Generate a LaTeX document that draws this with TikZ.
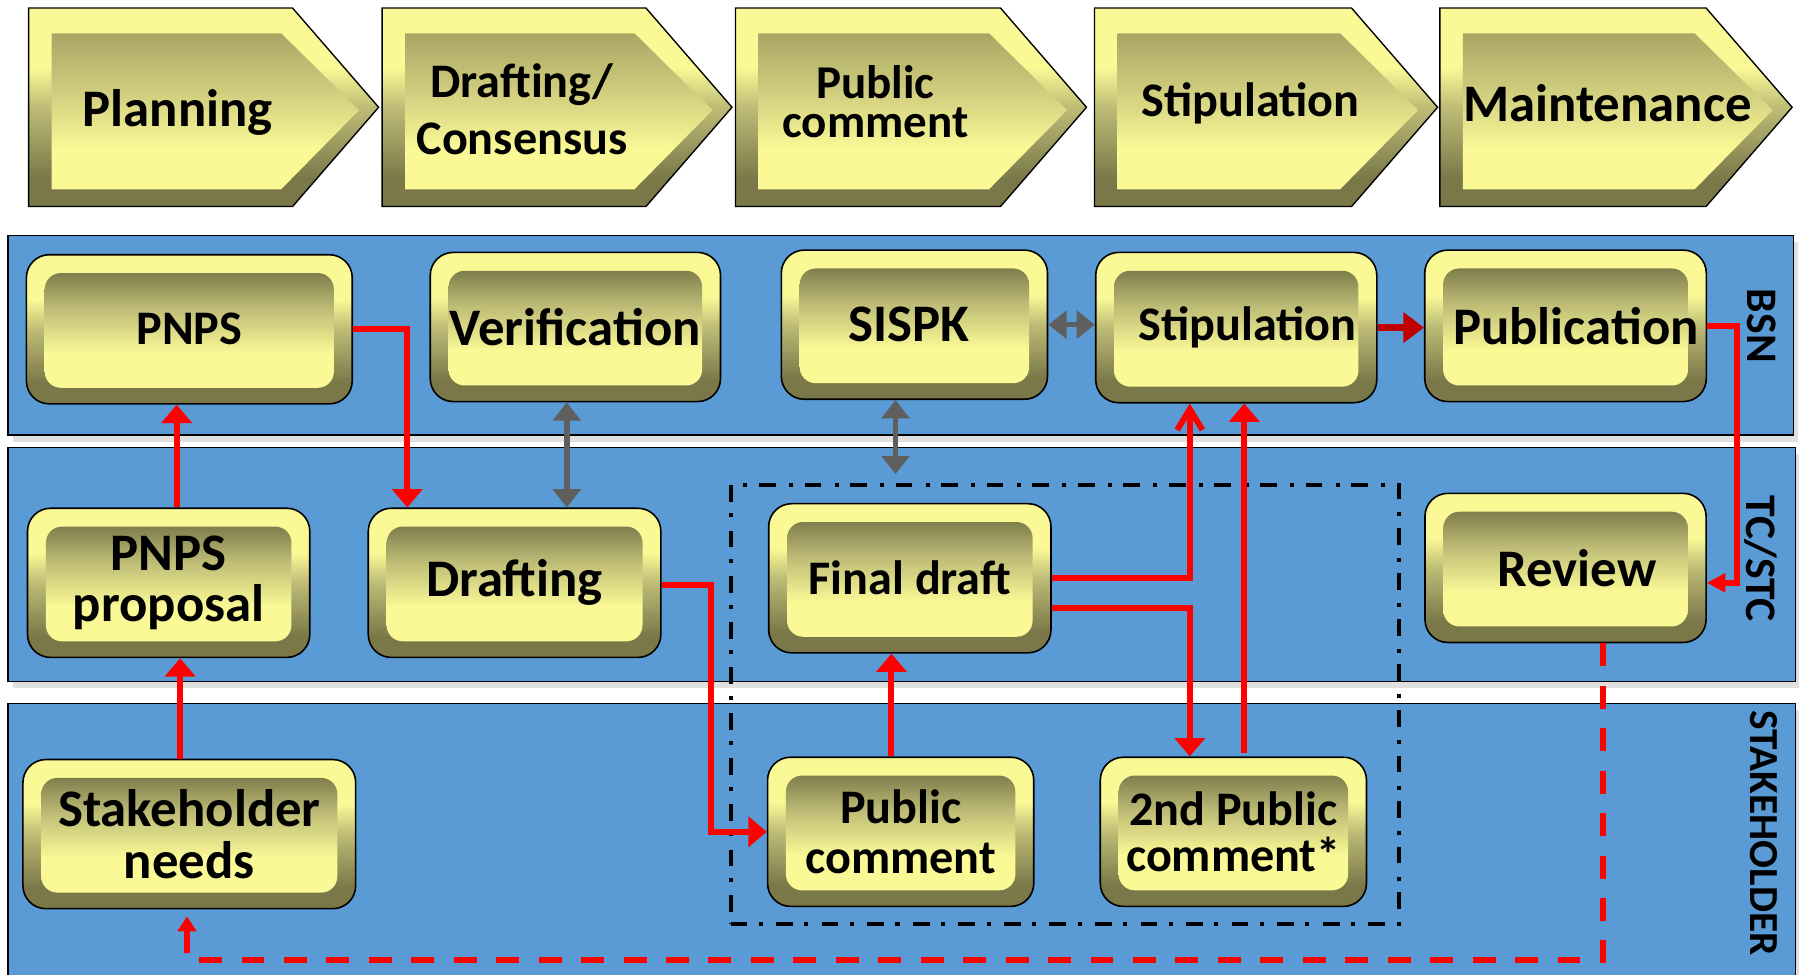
\documentclass[tikz,border=0pt]{standalone}
\usepackage{fontspec}
\setmainfont{Carlito}
\usepackage{tikz}
\usetikzlibrary{shapes,positioning,calc}
\usetikzlibrary{arrows.meta,shadows}
\definecolor{lightyel}{HTML}{FAF996}
\definecolor{olivedark}{HTML}{7A7848}
\definecolor{olivemid}{HTML}{BEBC76}
\definecolor{chevtop}{HTML}{A9A665}
\definecolor{chevmid}{HTML}{D3D080}
\definecolor{laneblue}{HTML}{5B9BD5}
\definecolor{linered}{HTML}{FF0000}
\definecolor{darkred}{HTML}{C00000}
\definecolor{arrowgray}{HTML}{5F5F5F}
\pgfdeclareverticalshading{boxout}{100bp}{color(0bp)=(olivedark); color(32bp)=(olivedark); color(50bp)=(olivemid); color(60bp)=(lightyel); color(100bp)=(lightyel)}
\pgfdeclareverticalshading{boxin}{100bp}{color(0bp)=(lightyel); color(42bp)=(lightyel); color(57bp)=(olivemid); color(70bp)=(olivedark); color(100bp)=(olivedark)}
\pgfdeclareverticalshading{chevin}{100bp}{color(0bp)=(lightyel); color(38bp)=(lightyel); color(55bp)=(chevmid); color(75bp)=(chevtop); color(100bp)=(chevtop)}
\tikzstyle{proc} = [rectangle, rounded corners=10pt, draw=black, line width=0.7pt,
shade, shading=boxout, align=center, font=\fontsize{23}{22}\selectfont\bfseries,
path picture={\shade[shading=boxin, rounded corners=7pt] ([xshift=8pt,yshift=7pt]path picture bounding box.south west) rectangle ([xshift=-8pt,yshift=-8pt]path picture bounding box.north east);}]
\tikzstyle{procsm} = [font=\fontsize{21}{21}\selectfont\bfseries]
\tikzstyle{phasetext} = [align=center, font=\fontsize{21}{25}\selectfont\bfseries]
\tikzstyle{lane} = [fill=laneblue, draw=black, line width=0.6pt,
drop shadow={shadow xshift=2pt, shadow yshift=-3pt, fill=black!12, opacity=1}]
\tikzstyle{lanelabel} = [rotate=-90, font=\fontsize{19}{19}\selectfont\bfseries]
\tikzstyle{grpbox} = [draw=black, line width=1.75pt, dash pattern=on 7.3pt off 5pt on 1.75pt off 5.8pt, inner sep=0pt]
\tikzstyle{redarrow} = [draw=linered, line width=2.6pt, -{Triangle[width=13pt,length=8pt]}]
\tikzstyle{barbarrow} = [draw=linered, line width=2.6pt, -{Straight Barb[width=11pt,length=9pt]}]
\tikzstyle{pubarrow} = [draw=darkred, line width=3pt, -{Triangle[width=13pt,length=9pt]}]
\tikzstyle{grayarrow} = [draw=arrowgray, line width=2.4pt, {Triangle[width=12pt,length=8pt]}-{Triangle[width=12pt,length=8pt]}]
\tikzstyle{backarrow} = [draw=linered, line width=2.6pt, dash pattern=on 10pt off 8.5pt, -{Triangle[width=8pt,length=6.5pt]}]
\newcommand{\phaseshape}[2]{%
\shadedraw[shading=boxout, draw=black, line width=0.6pt] (#1,7) -- ({#2-75},7) -- (#2,93.5) -- ({#2-75},180) -- (#1,180) -- cycle;
\shade[shading=chevin] ({#1+20},29) -- ({#2-85},29) -- ({#2-17},96) -- ({#2-85},165) -- ({#1+20},165) -- cycle;}

\begin{document}
\begin{tikzpicture}[x=0.5pt,y=-0.5pt]
\useasboundingbox (0,0) rectangle (1568,849);
% swimlanes
\draw[lane] (7,205) rectangle (1563,379);
\draw[lane] (7,390) rectangle (1565,594);
\draw[lane] (7,613) rectangle (1565,900);
\node[lanelabel] (bsn) at (1535,284) {BSN};
\node[lanelabel] (tcstc) at (1535,487) {TC/STC};
\node[lanelabel, font=\fontsize{18}{18}\selectfont\bfseries] (stake) at (1537,726) {STAKEHOLDER};
% phases
\phaseshape{25}{330}
\phaseshape{333}{638}
\phaseshape{641}{947}
\phaseshape{954}{1253}
\phaseshape{1255}{1562}
\node[phasetext, font=\fontsize{23}{22}\selectfont\bfseries] (planning) at (155,98) {Planning};
\node[phasetext] (consensus) at (455,95) {Drafting/\\Consensus};
\node[phasetext, font=\fontsize{20.5}{17}\selectfont\bfseries] (comment) at (763,89) {Public\\comment};
\node[phasetext] (stipphase) at (1090,90) {Stipulation};
\node[phasetext, font=\fontsize{23}{22}\selectfont\bfseries] (maint) at (1401,90) {Maintenance};
% BSN
\node[proc, procsm, minimum width=142pt, minimum height=65pt] (pnps) at (165,287) {PNPS};
\node[proc, minimum width=126.5pt, minimum height=65pt] (verif) at (501.5,285) {Verification};
\node[proc, minimum width=116pt, minimum height=65pt] (sispk) at (797,283) {SISPK\hspace*{5pt}};
\node[proc, procsm, minimum width=122.5pt, minimum height=65.5pt] (stip) at (1077.5,285.5) {\hspace*{10pt}Stipulation};
\node[proc, minimum width=122.5pt, minimum height=66pt] (publ) at (1364.5,284) {\hspace*{9pt}Publication};
% TC/STC
\node[proc, minimum width=123pt, minimum height=65pt] (prop) at (147,508) {PNPS\\proposal};
\node[proc, minimum width=127.5pt, minimum height=65pt] (draft) at (448.5,508) {Drafting};
\node[proc, procsm, minimum width=123pt, minimum height=65pt] (final) at (793,504) {Final draft};
\node[proc, minimum width=122.5pt, minimum height=65pt] (review) at (1364.5,495) {\hspace*{10pt}Review};
% stakeholder
\node[proc, font=\fontsize{23}{22.5}\selectfont\bfseries, minimum width=145pt, minimum height=65pt] (needs) at (165,727) {Stakeholder\\needs};
\node[proc, font=\fontsize{21}{21.5}\selectfont\bfseries, minimum width=116pt, minimum height=65pt] (pubc) at (785,725) {Public\\comment};
\node[proc, font=\fontsize{21}{20}\selectfont\bfseries, minimum width=116pt, minimum height=65pt] (pubc2) at (1075,725) {2nd Public\\comment*};
\node[grpbox, minimum width=291.35pt, minimum height=191.25pt] (grp) at (928.15,613.75) {};
% connectors
\draw[redarrow] ([xshift=-4pt]needs.north) -- ([xshift=5pt]prop.south);
\draw[redarrow] ([xshift=3.5pt]prop.north) -- ([xshift=-5.5pt]pnps.south);
\draw[redarrow] (pnps.east) -| ($(draft.north)+(-93.5,0)$);
\draw[grayarrow] ([xshift=-3.75pt]verif.south) -- ([xshift=22.75pt]draft.north);
\draw[grayarrow] ([xshift=-8.25pt]sispk.south) -- ($(sispk.south |- grp.north)+(-16.5,-7.5)$);
\draw[grayarrow] (sispk.east) -- (sispk.east -| stip.west);
\draw[pubarrow] (stip.east) -- (stip.east -| publ.west);
\draw[redarrow, -{Triangle[width=8pt,length=8pt]}] (publ.east) -| ($(review.east)+(26,13)$) -- ([yshift=-6.5pt]review.east);
\draw[barbarrow] (final.east) -| ($(stip.south)+(-40.5,0)$);
\draw[redarrow] ($(final.east)+(0,26)$) -| ($(pubc2.north)+(-38,0)$);
\draw[redarrow] ($(pubc2.north)+(9.5,-3)$) -- ($(stip.south)+(7,0)$);
\draw[redarrow] ($(draft.east)+(0,2)$) -- ++(43,0) |- (pubc.west);
\draw[redarrow] ($(pubc.north)+(-8,0)$) -- ($(final.south)+(-16,0)$);
\draw[backarrow] ([xshift=16.5pt]review.south) |- ($(needs.south)+(-2,44)$) -- ([xshift=-1pt,yshift=-3pt]needs.south);
\end{tikzpicture}
\end{document}
